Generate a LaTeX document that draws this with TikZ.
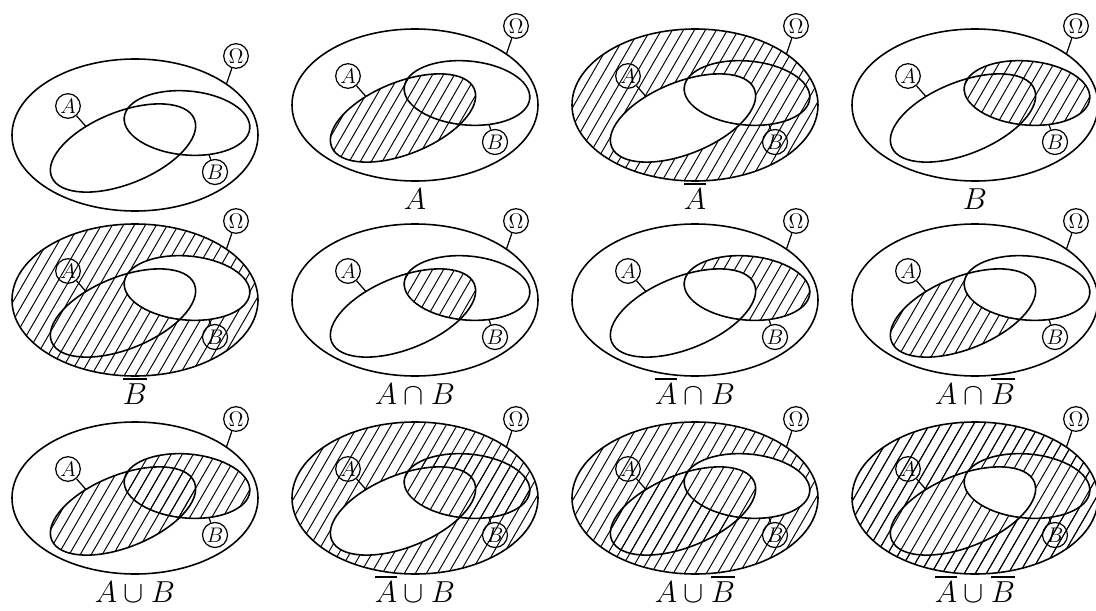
\documentclass[tikz,border=0pt]{standalone}
\usepackage{amsmath,amssymb}
\usetikzlibrary{positioning,calc}
\tikzset{
  setline/.style={line width=0.9pt},
  hatchline/.style={line width=0.55pt},
  pinline/.style={line width=0.7pt},
  tag/.style={draw, circle, line width=0.7pt, inner sep=0.6pt, minimum size=14pt, font=\large},
  caption/.style={font=\LARGE, anchor=base}}
% the three sets, in panel coordinates (1 unit = 1 px)
\newcommand\pOm{(0,0) ellipse [x radius=123, y radius=76]}
\newcommand\pA{(-12,-13) ellipse [x radius=77, y radius=36, rotate=22]}
\newcommand\pB{(52,12) ellipse [x radius=63, y radius=32, rotate=-5]}
\newcommand\pBox{(-140,-100) rectangle (140,100)}
\newcommand\hatchall{\foreach \k in {-18,...,18} \draw[hatchline] (\k*11-55,-95) -- (\k*11+55,95);}
\newcommand\hatchin[1]{\begin{scope}[even odd rule]#1\hatchall\end{scope}}
\newcommand\venn[4]{%
  \begin{scope}[shift={(#1,#2)}]
    #3
    \draw[setline] \pOm; \draw[setline] \pA; \draw[setline] \pB;
    \coordinate (om) at (42:123 and 76);
    \begin{scope}[shift={(-12,-13)},rotate=22] \coordinate (ae) at (110:77 and 36); \end{scope}
    \begin{scope}[shift={(52,12)},rotate=-5] \coordinate (be) at (293:63 and 32); \end{scope}
    \node[tag] (tom) at (101,79) {$\Omega$};
    \node[tag] (ta) at (-67,29) {$A$};
    \node[tag] (tb) at (80,-37) {$B$};
    \draw[pinline] (tom) -- (om); \draw[pinline] (ta) -- (ae); \draw[pinline] (tb) -- (be);
    \if\relax\detokenize{#4}\relax\else\node[caption] (cap) at (0,-104) {#4};\fi
  \end{scope}}
\begin{document}
\begin{tikzpicture}[x=0.02cm, y=0.02cm]
  \useasboundingbox (0,0) rectangle (1096,610);
  % row 1
  \venn{135}{475}{}{}
  \venn{415}{505}{\hatchin{\clip\pA;}}{$A$}
  \venn{695}{505}{\hatchin{\clip\pOm\pA;}}{$\overline{A}$}
  \venn{975}{505}{\hatchin{\clip\pB;}}{$B$}
  % row 2
  \venn{135}{310}{\hatchin{\clip\pOm\pB;}}{$\overline{B}$}
  \venn{415}{310}{\hatchin{\clip\pA; \clip\pB;}}{$A\cap B$}
  \venn{695}{310}{\hatchin{\clip\pB; \clip\pBox\pA;}}{$\overline{A}\cap B$}
  \venn{975}{310}{\hatchin{\clip\pA; \clip\pBox\pB;}}{$A\cap\overline{B}$}
  % row 3
  \venn{135}{112}{\hatchin{\clip\pA;}\hatchin{\clip\pB;}}{$A\cup B$}
  \venn{415}{112}{\hatchin{\clip\pOm\pA;}\hatchin{\clip\pB;}}{$\overline{A}\cup B$}
  \venn{695}{112}{\hatchin{\clip\pA;}\hatchin{\clip\pOm\pB;}}{$A\cup\overline{B}$}
  \venn{975}{112}{\hatchin{\clip\pOm\pA;}\hatchin{\clip\pOm\pB;}}{$\overline{A}\cup\overline{B}$}
\end{tikzpicture}
\end{document}
